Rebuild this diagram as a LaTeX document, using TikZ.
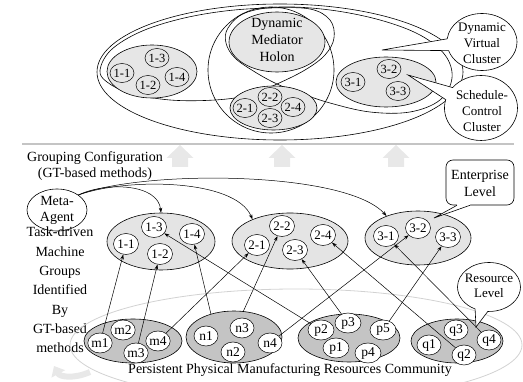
\documentclass[tikz,border=0pt]{standalone}
\usepackage{fontspec}
\setmainfont{Liberation Serif}
\usetikzlibrary{shapes.geometric,shapes.callouts,arrows.meta,calc}
\definecolor{fillT}{HTML}{E6E6E6}
\definecolor{fillM}{HTML}{E4E4E4}
\definecolor{fillB}{HTML}{C4C4C4}
\definecolor{bigarr}{HTML}{E8E8E8}
\definecolor{sepc}{HTML}{C4C4C4}
\definecolor{commc}{HTML}{D2D2D2}
\begin{document}
\begin{tikzpicture}[x=1pt,y=-1pt,
  every node/.style={font=\fontsize{14}{17}\selectfont, inner sep=0pt},
  lw/.style={line width=0.6pt},
  outl/.style={draw, line width=0.6pt},
  grpT/.style={ellipse, draw, fill=fillT, line width=0.6pt},
  subT/.style={ellipse, draw, fill=fillT, line width=0.5pt, minimum width=24pt, minimum height=19pt, font=\fontsize{12.5}{14}\selectfont},
  grpM/.style={ellipse, draw, fill=fillM, line width=0.6pt},
  subM/.style={ellipse, draw, fill=white, line width=0.5pt, minimum width=25pt, minimum height=21pt, font=\fontsize{13}{15}\selectfont},
  grpB/.style={ellipse, draw, fill=fillB, line width=0.6pt},
  subB/.style={ellipse, draw, fill=white, line width=0.5pt, minimum width=24pt, minimum height=20pt, font=\fontsize{13.5}{15}\selectfont},
  conn/.style={line width=0.5pt, -{Stealth[length=5pt,width=3.5pt]}},
  bubble/.style={ellipse callout, draw, fill=white, line width=0.6pt, callout pointer arc=24},
  ml/.style={align=center},
  bigup/.style={fill=bigarr, draw=none},
]
\useasboundingbox (0,0) rectangle (523,382);

% ---------------- top section ----------------
\draw[outl] (280,72) ellipse [x radius=183, y radius=68];
\draw[outl] plot[smooth cycle, tension=0.6] coordinates {(100,70) (111,50) (140,32) (180,19) (225,11) (270,8) (310,9) (330,20) (334,38) (325,55) (305,70) (277,84) (250,95) (215,100) (170,100) (130,93) (107,82)};
\draw[outl] plot[smooth cycle, tension=0.6] coordinates {(228,28) (245,13) (280,7) (330,10) (380,20) (420,35) (445,55) (452,78) (440,100) (410,112) (370,112) (330,103) (300,93) (277,84) (255,72) (235,58) (226,43)};
\draw[outl] (271,70) ellipse [x radius=63, y radius=63];

\node[ellipse, draw, fill=fillT, line width=0.6pt, minimum width=96pt, minimum height=60pt] (dmh) at (277,42) {};
\node[ml] (dmht) at (277,40) {Dynamic\\Mediator\\Holon};

\node[grpT, minimum width=90pt, minimum height=53pt] (t1) at (152,71.5) {};
\node[subT] (t11) at (122,73) {1-1};
\node[subT] (t13) at (157,58) {1-3};
\node[subT] (t12) at (148,85) {1-2};
\node[subT] (t14) at (177,77) {1-4};

\node[grpT, minimum width=87pt, minimum height=44pt] (t2) at (273.5,108) {};
\node[subT] (t21) at (245,108) {2-1};
\node[subT] (t22) at (270,97) {2-2};
\node[subT] (t24) at (293,107) {2-4};
\node[subT] (t23) at (270,118) {2-3};

\node[grpT, minimum width=100pt, minimum height=50pt] (t3) at (386,82) {};
\node[subT] (t31) at (353,82) {3-1};
\node[subT] (t32) at (389,69) {3-2};
\node[subT] (t33) at (398,91) {3-3};

\coordinate (dvctip) at (382,50);
\node[bubble, minimum width=70pt, minimum height=57pt, callout absolute pointer={(dvctip)}] (dvc) at (482,42) {};
\node[ml, font=\fontsize{13}{16}\selectfont] (dvct) at (482,43) {Dynamic\\Virtual\\Cluster};
\coordinate (scctip) at (408,75);
\node[bubble, minimum width=73pt, minimum height=65pt, callout absolute pointer={(scctip)}] (scc) at (481,108) {};
\node[ml, font=\fontsize{13}{16}\selectfont] (scct) at (482,111) {Schedule-\\Control\\Cluster};

% separator and big arrows
\draw[sepc, line width=1.1pt] (22,144) -- (514,144);
\foreach \cx/\nm in {180/ua, 282/ub, 396/uc}{
  \fill[bigup] (\cx-8,167) -- (\cx-8,158) -- (\cx-13.5,158) -- (\cx,145) -- (\cx+13.5,158) -- (\cx+8,158) -- (\cx+8,167) -- cycle;
}
\node[ml, font=\fontsize{14}{16}\selectfont] (gc) at (95,166) {Grouping Configuration\\(GT-based methods)};

% ---------------- middle section ----------------
\node[ellipse, draw, line width=0.6pt, minimum width=60pt, minimum height=42pt] (meta) at (57,210) {};
\node[ml, font=\fontsize{14}{16}\selectfont] (metat) at (57,210.5) {Meta-\\Agent};
\node[ml, font=\fontsize{14}{19.3}\selectfont] (task) at (60,290) {Task-driven\\Machine\\Groups\\Identified\\By\\GT-based\\methods};

% community ellipse (behind)
\draw[commc, line width=0.8pt] (296,345) ellipse [x radius=226, y radius=56];
\draw[bigarr, line width=6pt, -{Triangle[length=9pt,width=15pt]}] (90,372) .. controls (74,379) and (60,377) .. (54,366);

\node[grpM, minimum width=108pt, minimum height=57pt] (g1) at (161,241.5) {};
\node[subM] (s11) at (126,244) {1-1};
\node[subM] (s13) at (154,227) {1-3};
\node[subM] (s12) at (160,254) {1-2};
\node[subM] (s14) at (192,234) {1-4};

\node[grpM, minimum width=116pt, minimum height=56pt] (g2) at (290,241) {};
\node[subM] (s21) at (257,245) {2-1};
\node[subM] (s22) at (282,226) {2-2};
\node[subM] (s24) at (323,235) {2-4};
\node[subM] (s23) at (295,250) {2-3};

\node[grpM, minimum width=106pt, minimum height=54pt] (g3) at (418,238) {};
\node[subM] (s31) at (386,236) {3-1};
\node[subM] (s32) at (418,228) {3-2};
\node[subM] (s33) at (448,237) {3-3};

% ---------------- bottom section ----------------
\node[grpB, minimum width=98pt, minimum height=44pt] (mg) at (133,341) {};
\node[subB] (m1) at (100,343) {m1};
\node[subB] (m2) at (123,330) {m2};
\node[subB] (m3) at (136,353) {m3};
\node[subB] (m4) at (158,341) {m4};

\node[grpB, minimum width=96pt, minimum height=52pt] (ng) at (234,337) {};
\node[subB] (n1) at (206,336) {n1};
\node[subB] (n3) at (242,328) {n3};
\node[subB] (n2) at (233,352) {n2};
\node[subB] (n4) at (270,343) {n4};

\node[grpB, minimum width=102pt, minimum height=48pt] (pg) at (349,338) {};
\node[subB, minimum width=26pt] (p2) at (321,330) {p2};
\node[subB, minimum width=26pt] (p3) at (348,323) {p3};
\node[subB, minimum width=26pt] (p5) at (383,330) {p5};
\node[subB, minimum width=26pt] (p1) at (336,348) {p1};
\node[subB, minimum width=26pt] (p4) at (368,353) {p4};

\node[grpB, minimum width=92pt, minimum height=44pt] (qg) at (457,341) {};
\node[subB] (q1) at (429,345) {q1};
\node[subB] (q3) at (456,330) {q3};
\node[subB] (q2) at (464,355) {q2};
\node[subB] (q4) at (489,340) {q4};

\node (pers) at (290,370) {Persistent Physical Manufacturing Resources Community};

% connectors
\draw[conn] (m1) -- (s11);
\draw[conn] (m3) -- (s12);
\draw[conn] (m4) -- (s21);
\draw[conn] (ng.135) -- (s14);
\draw[conn] (ng.70) -- (s22);
\draw[conn] (p2) -- (s13);
\draw[conn] (n4) -- (s32);
\draw[conn] (p3) -- (s23);
\draw[conn] (p5) -- (s33);
\draw[conn] (q2) -- (s24);
\draw[conn] (q4) -- (s31);

% meta-agent curves
\draw[conn] (meta.35) .. controls (105,182) and (158,183) .. (g1.north);
\draw[conn] (meta.35) .. controls (125,178) and (235,178) .. (g2.150);
\draw[conn] (meta.35) .. controls (140,170) and (345,170) .. (g3.145);

% callouts middle/bottom
\node[draw, rounded corners=7pt, fill=white, line width=0.6pt, minimum width=68pt, minimum height=45pt] (ent) at (480,182.5) {};
\node[ml] (entt) at (480,183.5) {Enterprise\\Level};
\coordinate (enttip) at (434,218);
\coordinate (entb1) at ($(ent.south)+(-23,0)$);
\coordinate (entb2) at ($(ent.south)+(-10,0)$);
\fill[white] (entb1) -- (enttip) -- (entb2) -- ($(entb2)+(0,-3)$) -- ($(entb1)+(0,-3)$) -- cycle;
\draw[lw] (entb1) -- (enttip) -- (entb2);

\coordinate (rltip) at (476,327);
\node[bubble, minimum width=63pt, minimum height=49pt, callout absolute pointer={(rltip)}] (rl) at (489,287) {};
\node[ml, font=\fontsize{13}{15.5}\selectfont] (rlt) at (489,286) {Resource\\Level};

\end{tikzpicture}
\end{document}
